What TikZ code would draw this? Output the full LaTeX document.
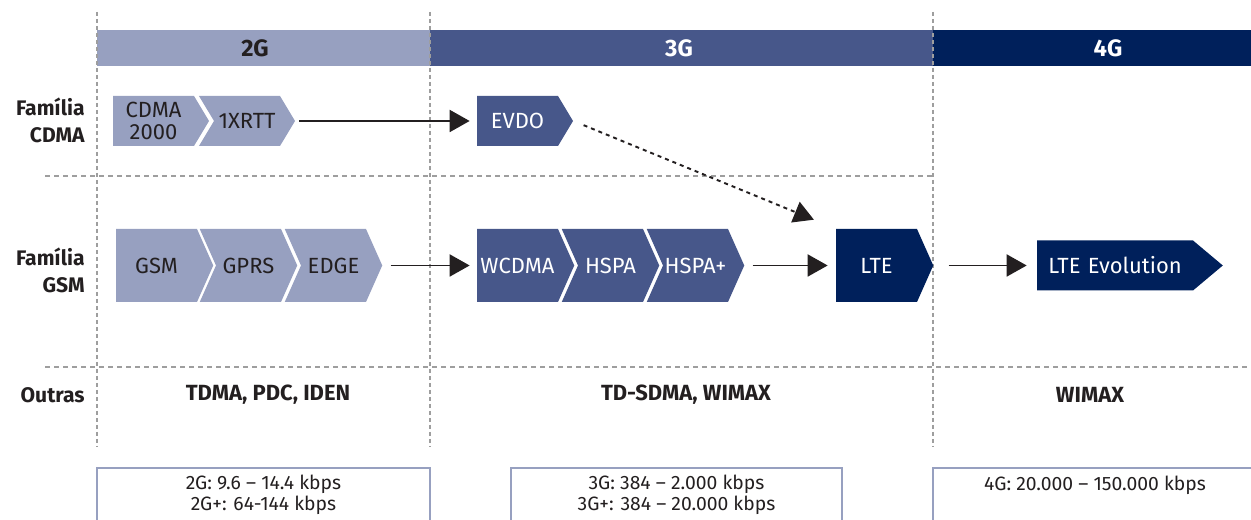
\documentclass[tikz,border=0pt]{standalone}
\usepackage{fontspec}
\setmainfont{Fira Sans}
\usetikzlibrary{shapes.symbols,arrows.meta}

\definecolor{gentwo}{RGB}{151,160,192}
\definecolor{genthree}{RGB}{71,87,138}
\definecolor{genfour}{RGB}{0,32,91}
\definecolor{gridgray}{RGB}{158,158,158}
\definecolor{inkdark}{RGB}{35,31,32}

\tikzset{
    tech/.style={signal, signal to=east, inner xsep=0pt, inner ysep=0pt, align=center, font=\fontsize{12.5}{12.5}\selectfont},
    techsmall/.style={tech, minimum height=1cm, signal pointer angle=118},
    techbig/.style={tech, minimum height=1.46cm, signal pointer angle=132},
    notched/.style={signal from=west},
    g2/.style={fill=gentwo, text=inkdark},
    g3/.style={fill=genthree, text=white},
    g4/.style={fill=genfour, text=white},
    flow/.style={line width=1.1pt, draw=inkdark, -{Triangle[length=0.4cm, width=0.44cm]}},
    gridline/.style={gridgray, line width=0.8pt, dash pattern=on 0.08cm off 0.06cm},
    barlabel/.style={font=\fontsize{13.5}{15}\selectfont\bfseries},
    rowlabel/.style={font=\fontsize{12}{15.3}\selectfont\bfseries, text=inkdark, align=right, anchor=east, inner sep=0pt},
    otherlabel/.style={font=\fontsize{12.5}{14}\selectfont\bfseries, text=inkdark},
    ratetext/.style={font=\fontsize{11}{11.6}\selectfont, text=inkdark, align=center},
}

\begin{document}
\begin{tikzpicture}
    \useasboundingbox (0,0) rectangle (25.02,10.4);

    % Generation bars
    \fill[gentwo] (1.94,9.08) rectangle (8.6,9.8);
    \fill[genthree] (8.6,9.08) rectangle (18.66,9.8);
    \fill[genfour] (18.66,9.08) rectangle (25.02,9.8);
    \node[barlabel, text=inkdark] (bar2g) at (5.1,9.44) {2G};
    \node[barlabel, text=white] (bar3g) at (13.58,9.44) {3G};
    \node[barlabel, text=white] (bar4g) at (22.16,9.44) {4G};

    % Grid lines between generations and rows
    \foreach \x in {1.94, 8.6, 18.66} {
        \draw[gridline] (\x,10.16) -- (\x,1.46);
    }
    \draw[gridline, dash pattern=on 0.1cm off 0.08cm] (0.9,6.88) -- (18.66,6.88);
    \draw[gridline, dash pattern=on 0.1cm off 0.08cm] (0.9,3.06) -- (25.02,3.06);

    % Row labels
    \node[rowlabel] (rowcdma) at (1.7,8.0) {Família\\CDMA};
    \node[rowlabel] (rowgsm) at (1.7,5.0) {Família\\GSM};
    \node[rowlabel] (rowother) at (1.7,2.5) {Outras};

    % CDMA family
    \node[techsmall, g2, text width=1.62cm] (cdma) at (3.07,7.98) {CDMA\\2000};
    \node[techsmall, g2, notched, text width=1.32cm] (xrtt) at (4.94,7.98) {1XRTT};
    \node[techsmall, g3, text width=1.62cm] (evdo) at (10.35,7.98) {EVDO};

    % GSM family
    \node[techbig, g2, text width=1.62cm] (gsm) at (3.13,5.09) {GSM};
    \node[techbig, g2, notched, text width=1.30cm] (gprs) at (4.97,5.09) {GPRS};
    \node[techbig, g2, notched, text width=1.30cm] (edge) at (6.67,5.09) {EDGE};
    \node[techbig, g3, text width=1.62cm] (wcdma) at (10.35,5.09) {WCDMA};
    \node[techbig, g3, notched, text width=1.30cm] (hspa) at (12.21,5.09) {HSPA};
    \node[techbig, g3, notched, text width=1.30cm] (hspaplus) at (13.91,5.09) {HSPA+};
    \node[techbig, g4, text width=1.62cm] (lte) at (17.53,5.09) {LTE};
    \node[tech, g4, minimum height=1cm, signal pointer angle=80, text width=3.12cm] (lteevo) at (22.3,5.09) {LTE Evolution};

    % Transitions
    \draw[flow, shorten <=0.08cm, shorten >=0.14cm] (xrtt.east) -- (evdo.west);
    \draw[flow, shorten <=0.16cm, shorten >=0.14cm] (edge.east) -- (wcdma.west);
    \draw[flow, shorten <=0.16cm, shorten >=0.16cm] (hspaplus.east) -- (lte.west);
    \draw[flow, shorten <=0.3cm, shorten >=0.2cm] (lte.east) -- (lteevo.west);
    \draw[flow, dash pattern=on 0.08cm off 0.08cm, shorten <=0.22cm, shorten >=0.47cm] (evdo.east) -- (lte.north west);

    % Other technologies
    \node[otherlabel] (other2g) at (5.36,2.5) {TDMA, PDC, IDEN};
    \node[otherlabel] (other3g) at (13.72,2.5) {TD-SDMA, WIMAX};
    \node[otherlabel] (other4g) at (21.8,2.5) {WIMAX};

    % Data rates
    \draw[gentwo, line width=0.8pt] (1.94,1.04) rectangle (8.6,-0.5);
    \draw[gentwo, line width=0.8pt] (10.22,1.04) rectangle (16.84,-0.5);
    \draw[gentwo, line width=0.8pt] (18.66,1.04) rectangle (25.14,-0.5);
    \node[ratetext] (rate2g) at (5.27,0.5) {2G: 9.6 – 14.4 kbps\\2G+: 64-144 kbps};
    \node[ratetext] (rate3g) at (13.53,0.5) {3G: 384 – 2.000 kbps\\3G+: 384 – 20.000 kbps};
    \node[ratetext] (rate4g) at (21.9,0.7) {4G: 20.000 – 150.000 kbps};
\end{tikzpicture}
\end{document}
